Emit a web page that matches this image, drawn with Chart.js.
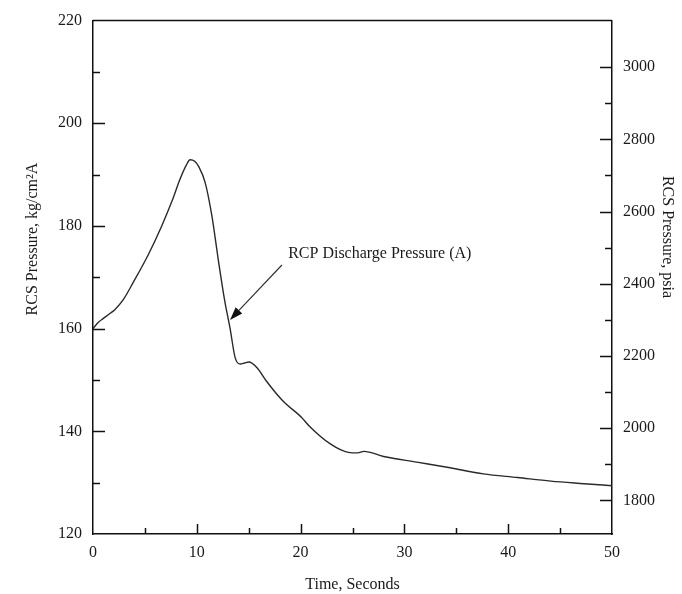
<!DOCTYPE html>
<html>
<head>
<meta charset="utf-8">
<script src="https://cdn.jsdelivr.net/npm/chart.js@4/dist/chart.umd.min.js"></script>
<style>
  html, body { margin: 0; padding: 0; background: #fff; }
  #wrap { width: 682px; height: 594px; }
</style>
</head>
<body>
<div id="wrap"><canvas id="c" width="682" height="594"></canvas></div>
<script>
// ---- data ----
const timeSec = [0, 0.5, 1.0, 1.6, 2.1, 2.9, 3.9, 5.3, 6.6, 7.6, 8.4, 9.0, 9.35, 9.8, 10.2, 10.8, 11.45, 12.1, 12.7, 13.2, 13.7, 14.2, 14.6, 15.0, 15.8, 16.7, 18.3, 20.1, 20.8, 22.9, 24.6, 25.5, 26.1, 28, 31.2, 34.4, 37.6, 40.9, 44.1, 47.3, 50];
const pressureKg = [160, 161.2, 162.0, 162.9, 163.7, 165.6, 169.1, 174.3, 179.9, 184.8, 189.2, 191.9, 192.9, 192.6, 191.5, 188.5, 182, 173, 165.3, 160.1, 154.3, 153.1, 153.3, 153.5, 152.4, 149.8, 145.9, 142.7, 141.1, 137.5, 135.9, 135.8, 136.1, 135.1, 134.0, 132.9, 131.7, 131.0, 130.3, 129.8, 129.4];
const seriesLabel = 'RCP Discharge Pressure (A)';
const xTicks = [0, 10, 20, 30, 40, 50];
const yLeftTicks = [120, 140, 160, 180, 200, 220];
const yRightTicks = [1800, 2000, 2200, 2400, 2600, 2800, 3000];
const KG_TO_PSI = 14.2233;
const xTitle = 'Time, Seconds';
const yLeftTitle = 'RCS Pressure, kg/cm\u00B2A';
const yRightTitle = 'RCS Pressure, psia';
// annotation anchor points in data units
const annText = { t: 18.8, p: 174.5 };
const annArrowTail = { t: 18.2, p: 172.4 };
const annArrowTip = { t: 13.2, p: 161.7 };

const points = timeSec.map((t, i) => ({ x: t, y: pressureKg[i] }));
const FONT = "'Liberation Serif', 'Times New Roman', serif";
const TXT = '#1a1a1a';

const innerTicks = {
  id: 'innerTicks',
  afterDraw(chart) {
    const ctx = chart.ctx;
    const a = chart.chartArea;
    const sx = chart.scales.x, sl = chart.scales.y, sr = chart.scales.y2;
    ctx.save();
    ctx.strokeStyle = '#111';
    ctx.lineWidth = 1.5;
    // top frame
    ctx.beginPath();
    ctx.moveTo(a.left, a.top);
    ctx.lineTo(a.right, a.top);
    ctx.stroke();
    ctx.beginPath();
    sx.ticks.forEach(tk => {
      const v = tk.value;
      if (Math.abs(v / 5 - Math.round(v / 5)) > 1e-6) return;
      if (v <= sx.min || v >= sx.max) return;
      const px = Math.round(sx.getPixelForValue(v)) + 0.5;
      const len = Math.abs(v % 10) < 1e-6 ? 10 : 6;
      ctx.moveTo(px, a.bottom);
      ctx.lineTo(px, a.bottom - len);
    });
    sl.ticks.forEach(tk => {
      const v = tk.value;
      if (Math.abs(v / 10 - Math.round(v / 10)) > 1e-6) return;
      if (v <= sl.min || v >= sl.max) return;
      const py = Math.round(sl.getPixelForValue(v)) + 0.5;
      const len = Math.abs(v % 20) < 1e-6 ? 12 : 7;
      ctx.moveTo(a.left, py);
      ctx.lineTo(a.left + len, py);
    });
    sr.ticks.forEach(tk => {
      const v = tk.value;
      if (Math.abs(v / 100 - Math.round(v / 100)) > 1e-6) return;
      const py = Math.round(sr.getPixelForValue(v)) + 0.5;
      const len = Math.abs(v % 200) < 1e-6 ? 12 : 7;
      ctx.moveTo(a.right, py);
      ctx.lineTo(a.right - len, py);
    });
    ctx.stroke();

    // axis titles
    ctx.fillStyle = TXT;
    ctx.font = '16px ' + FONT;
    ctx.textAlign = 'center';
    ctx.textBaseline = 'middle';
    ctx.save();
    ctx.translate(33, 239);
    ctx.rotate(-Math.PI / 2);
    ctx.fillText(yLeftTitle, 0, 0);
    ctx.restore();
    ctx.save();
    ctx.translate(667, 237);
    ctx.rotate(Math.PI / 2);
    ctx.fillText(yRightTitle, 0, 0);
    ctx.restore();

    // annotation
    ctx.textAlign = 'left';
    ctx.fillText(seriesLabel, sx.getPixelForValue(annText.t), sl.getPixelForValue(annText.p));
    const x1 = sx.getPixelForValue(annArrowTail.t), y1 = sl.getPixelForValue(annArrowTail.p);
    const x2 = sx.getPixelForValue(annArrowTip.t), y2 = sl.getPixelForValue(annArrowTip.p);
    const ang = Math.atan2(y2 - y1, x2 - x1);
    const hl = 13, hw = 4.5;
    const bx = x2 - hl * Math.cos(ang), by = y2 - hl * Math.sin(ang);
    ctx.strokeStyle = '#333';
    ctx.lineWidth = 1.2;
    ctx.beginPath();
    ctx.moveTo(x1, y1);
    ctx.lineTo(bx, by);
    ctx.stroke();
    ctx.fillStyle = '#111';
    ctx.beginPath();
    ctx.moveTo(x2, y2);
    ctx.lineTo(bx + hw * Math.sin(ang), by - hw * Math.cos(ang));
    ctx.lineTo(bx - hw * Math.sin(ang), by + hw * Math.cos(ang));
    ctx.closePath();
    ctx.fill();
    ctx.restore();
  }
};

new Chart(document.getElementById('c'), {
  type: 'line',
  data: {
    datasets: [{
      label: seriesLabel,
      data: points,
      borderColor: '#2a2a2a',
      borderWidth: 1.4,
      pointRadius: 0,
      fill: false,
      cubicInterpolationMode: 'monotone',
      yAxisID: 'y'
    }]
  },
  options: {
    responsive: false,
    animation: false,
    events: [],
    layout: { padding: { left: 0, right: 0, top: 17, bottom: 0 } },
    plugins: { legend: { display: false }, tooltip: { enabled: false } },
    scales: {
      x: {
        type: 'linear',
        min: 0, max: 50,
        afterFit: s => { s.height = 60; },
        grid: { display: true, drawOnChartArea: false, drawTicks: false },
        border: { display: true, color: '#111', width: 1.5 },
        ticks: {
          stepSize: 5, autoSkip: false, maxRotation: 0, padding: 9,
          color: TXT, font: { family: FONT, size: 16 },
          callback: v => xTicks.includes(v) ? String(v) : ''
        },
        title: { display: true, text: xTitle, color: TXT, font: { family: FONT, size: 16 }, padding: { top: 0, bottom: 0 } }
      },
      y: {
        type: 'linear',
        position: 'left',
        min: 120, max: 220,
        afterFit: s => { s.width = 93; },
        grid: { display: true, drawOnChartArea: false, drawTicks: false },
        border: { display: true, color: '#111', width: 1.5 },
        ticks: {
          stepSize: 10, autoSkip: false, padding: 11,
          color: TXT, font: { family: FONT, size: 16 },
          callback: v => yLeftTicks.includes(v) ? String(v) : ''
        }
      },
      y2: {
        type: 'linear',
        position: 'right',
        min: 120 * KG_TO_PSI, max: 220 * KG_TO_PSI,
        afterFit: s => { s.width = 70; },
        grid: { display: true, drawOnChartArea: false, drawTicks: false },
        border: { display: true, color: '#111', width: 1.5 },
        ticks: {
          stepSize: 100, autoSkip: false, padding: 11,
          color: TXT, font: { family: FONT, size: 16 },
          callback: v => yRightTicks.includes(Math.round(v)) && Math.abs(v - Math.round(v)) < 1e-6 ? String(Math.round(v)) : ''
        }
      }
    }
  },
  plugins: [innerTicks]
});
</script>
</body>
</html>
